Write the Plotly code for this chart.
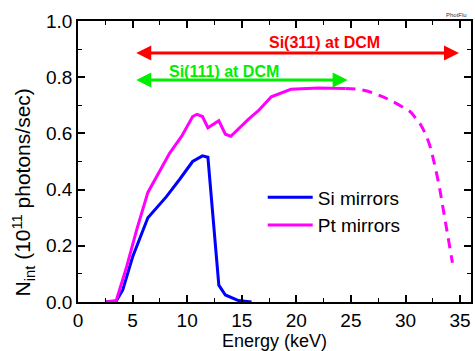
import plotly.graph_objects as go

# Si mirrors
si_energy = [2.5, 3.5, 4.1, 5.0, 6.4, 8.1, 9.3, 10.5, 11.4, 11.9, 12.9, 13.5, 14.7, 15.9]
si_flux = [0.0, 0.003, 0.043, 0.16, 0.30, 0.375, 0.436, 0.50, 0.52, 0.515, 0.06, 0.025, 0.005, 0.0]

# Pt mirrors (solid part)
pt_energy = [2.5, 3.5, 4.45, 5.4, 6.4, 8.4, 9.5, 10.5, 10.9, 11.4, 11.9, 12.9, 13.5, 14.0,
             15.6, 16.5, 17.7, 19.5, 22.0, 24.5]
pt_flux = [0.0, 0.005, 0.125, 0.26, 0.39, 0.53, 0.59, 0.66, 0.668, 0.66, 0.62, 0.645, 0.597, 0.59,
           0.65, 0.68, 0.73, 0.757, 0.762, 0.76]

# Pt mirrors (dashed extrapolation)
pt_dash_energy = [24.5, 26.0, 27.3, 28.5, 29.9, 30.5, 31.0, 31.4, 31.8, 32.2, 32.6, 33.1, 33.5, 33.9, 34.3]
pt_dash_flux = [0.76, 0.755, 0.74, 0.72, 0.69, 0.675, 0.65, 0.63, 0.60, 0.56, 0.50, 0.41, 0.32, 0.23, 0.14]

# Monochromator ranges (keV), arrow heights and label positions
si311_range = [5.2, 34.9]
si311_level = 0.886
si311_label = [22.6, 0.925]
si111_range = [5.2, 24.7]
si111_level = 0.79
si111_label = [13.4, 0.82]

x_ticks = [0, 5, 10, 15, 20, 25, 30, 35]
y_ticks = [0.0, 0.2, 0.4, 0.6, 0.8, 1.0]

FONT = "Liberation Sans, Arial, sans-serif"

fig = go.Figure()
fig.add_trace(go.Scatter(x=si_energy, y=si_flux, mode="lines", name="Si mirrors",
                         line=dict(color="#0000ff", width=3)))
fig.add_trace(go.Scatter(x=pt_energy, y=pt_flux, mode="lines", name="Pt mirrors",
                         line=dict(color="#ff00ff", width=3)))
fig.add_trace(go.Scatter(x=pt_dash_energy, y=pt_dash_flux, mode="lines", showlegend=False,
                         line=dict(color="#ff00ff", width=3, dash="10px,7px", shape="spline")))

for rng, lvl, lab, col, txt in [(si311_range, si311_level, si311_label, "#ff0000", "Si(311) at DCM"),
                                (si111_range, si111_level, si111_label, "#00ee00", "Si(111) at DCM")]:
    fig.add_annotation(x=rng[1], y=lvl, ax=rng[0], ay=lvl, xref="x", yref="y",
                       axref="x", ayref="y", text="", showarrow=True,
                       arrowhead=2, startarrowhead=2, arrowside="end+start",
                       arrowsize=1.0, startarrowsize=1.0, arrowwidth=3, arrowcolor=col)
    fig.add_annotation(x=lab[0], y=lab[1], xref="x", yref="y", text="<b>" + txt + "</b>",
                       showarrow=False, font=dict(color=col, size=16, family=FONT))

fig.add_annotation(x=1, y=1, xref="paper", yref="paper", xanchor="right", yanchor="bottom",
                   xshift=-2, yshift=1, text="PhotFlu", showarrow=False,
                   font=dict(size=6, color="#333333", family=FONT))

# y-axis title (placed as rotated text, slightly lower than axis centre as in the original)
fig.add_annotation(x=-0.14, y=0.39, xref="paper", yref="paper", xanchor="center", yanchor="middle",
                   text="N<sub>int</sub> (10<sup>11</sup> photons/sec)", textangle=-90,
                   showarrow=False, font=dict(size=21, family=FONT, color="black"))

axis_common = dict(showline=True, linecolor="black", linewidth=1.5, mirror="ticks",
                   ticks="inside", ticklen=7, tickwidth=1.5, tickcolor="black",
                   showgrid=False, zeroline=False,
                   tickfont=dict(size=19, family=FONT, color="black"))

fig.update_layout(
    width=475, height=351,
    margin=dict(l=78, r=2, t=21, b=49),
    plot_bgcolor="white", paper_bgcolor="white",
    font=dict(family=FONT, color="black"),
    xaxis=dict(range=[0, 36], tickvals=x_ticks,
               minor=dict(ticks="inside", ticklen=4, tickwidth=1.2, dtick=2.5, tick0=0, tickcolor="black"),
               title=dict(text="Energy (keV)", font=dict(size=18, family=FONT), standoff=0),
               **axis_common),
    yaxis=dict(range=[0, 1.0], tickvals=y_ticks, ticktext=[f"{v:.1f}" for v in y_ticks],
               minor=dict(ticks="inside", ticklen=4, tickwidth=1.2, dtick=0.1, tick0=0, tickcolor="black"),
               **axis_common),
    legend=dict(x=0.47, y=0.44, xanchor="left", yanchor="top", bgcolor="rgba(0,0,0,0)",
                font=dict(size=19, family=FONT), tracegroupgap=0, itemwidth=45),
    showlegend=True,
)

fig.write_html("out.html")
